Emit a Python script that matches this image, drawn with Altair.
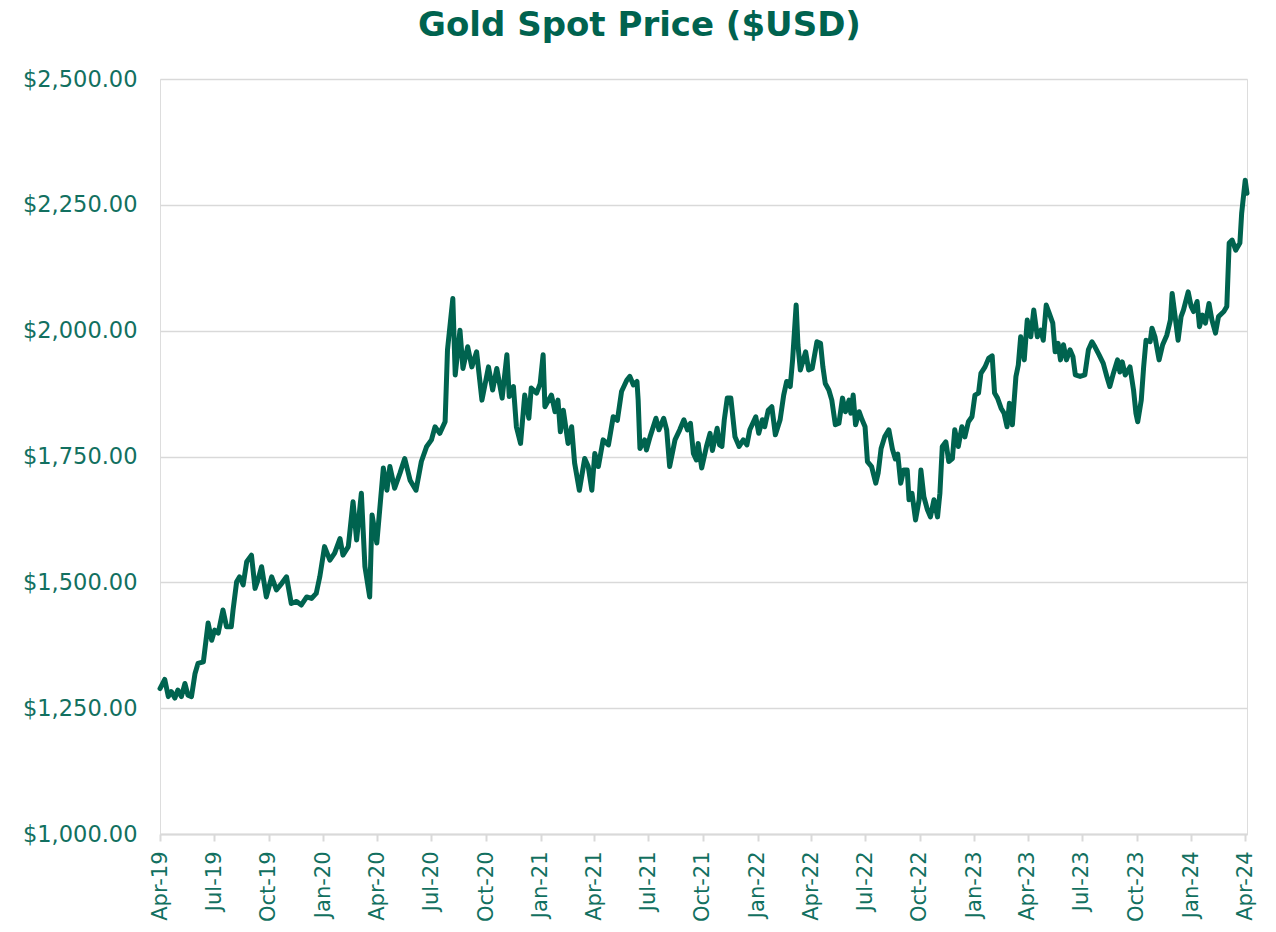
import altair as alt
import pandas as pd

# ---- data (approximate weekly readings) ----
dates_2019 = ["2019-04-01","2019-04-09","2019-04-15","2019-04-20","2019-04-26","2019-05-01","2019-05-07","2019-05-13","2019-05-18","2019-05-24","2019-05-30","2019-06-04","2019-06-13","2019-06-21","2019-06-27","2019-07-02","2019-07-08","2019-07-16","2019-07-22","2019-07-30","2019-08-02","2019-08-08","2019-08-13","2019-08-19","2019-08-25","2019-09-02","2019-09-08","2019-09-13","2019-09-19","2019-09-27","2019-10-06","2019-10-14","2019-10-23","2019-10-31","2019-11-08","2019-11-17","2019-11-25","2019-12-04","2019-12-12","2019-12-20","2019-12-26"]
prices_2019 = [1289,1307,1273,1283,1270,1286,1273,1299,1276,1273,1319,1339,1342,1419,1385,1405,1399,1445,1412,1412,1445,1501,1511,1495,1541,1554,1488,1505,1531,1471,1511,1485,1498,1511,1458,1462,1455,1471,1468,1478,1511]

dates_2020 = ["2020-01-03","2020-01-12","2020-01-20","2020-01-29","2020-02-03","2020-02-12","2020-02-20","2020-02-26","2020-03-05","2020-03-11","2020-03-19","2020-03-23","2020-03-31","2020-04-11","2020-04-17","2020-04-22","2020-04-30","2020-05-09","2020-05-17","2020-05-26","2020-06-05","2020-06-14","2020-06-23","2020-07-01","2020-07-07","2020-07-15","2020-07-24","2020-07-28","2020-08-06","2020-08-10","2020-08-18","2020-08-23","2020-08-31","2020-09-07","2020-09-15","2020-09-24","2020-10-05","2020-10-12","2020-10-19","2020-10-28","2020-11-05","2020-11-09","2020-11-16","2020-11-21","2020-11-28","2020-12-05","2020-12-12","2020-12-16","2020-12-25","2020-12-31"]
prices_2020 = [1571,1544,1558,1587,1554,1571,1660,1584,1677,1531,1471,1634,1578,1727,1683,1730,1687,1717,1746,1703,1683,1740,1770,1783,1809,1796,1819,1962,2064,1912,2001,1925,1968,1928,1958,1862,1928,1882,1925,1866,1952,1869,1889,1809,1776,1872,1826,1886,1876,1895]

dates_2021 = ["2021-01-05","2021-01-08","2021-01-19","2021-01-25","2021-01-30","2021-02-03","2021-02-08","2021-02-16","2021-02-22","2021-02-27","2021-03-07","2021-03-16","2021-03-22","2021-03-28","2021-04-02","2021-04-08","2021-04-16","2021-04-25","2021-05-03","2021-05-10","2021-05-17","2021-05-26","2021-05-31","2021-06-06","2021-06-12","2021-06-14","2021-06-17","2021-06-25","2021-06-28","2021-07-04","2021-07-14","2021-07-19","2021-07-27","2021-08-01","2021-08-06","2021-08-15","2021-08-23","2021-08-30","2021-09-05","2021-09-10","2021-09-15","2021-09-20","2021-09-23","2021-09-29","2021-10-07","2021-10-13","2021-10-17","2021-10-25","2021-10-29","2021-11-02","2021-11-06","2021-11-11","2021-11-17","2021-11-24","2021-12-01","2021-12-08","2021-12-14","2021-12-19","2021-12-29"]
prices_2021 = [1952,1849,1872,1839,1862,1799,1842,1776,1809,1737,1683,1746,1730,1683,1756,1730,1783,1773,1829,1822,1879,1902,1909,1892,1899,1862,1766,1783,1763,1789,1826,1803,1826,1803,1730,1783,1803,1823,1803,1816,1756,1743,1776,1727,1770,1796,1762,1806,1773,1770,1823,1866,1866,1789,1770,1783,1773,1803,1829]

dates_2022 = ["2022-01-03","2022-01-09","2022-01-13","2022-01-19","2022-01-25","2022-01-31","2022-02-08","2022-02-14","2022-02-19","2022-02-25","2022-03-01","2022-03-07","2022-03-10","2022-03-14","2022-03-23","2022-03-28","2022-04-03","2022-04-11","2022-04-17","2022-04-21","2022-04-25","2022-05-01","2022-05-06","2022-05-12","2022-05-18","2022-05-24","2022-05-29","2022-06-04","2022-06-07","2022-06-11","2022-06-15","2022-06-21","2022-06-26","2022-07-01","2022-07-05","2022-07-12","2022-07-19","2022-07-23","2022-07-28","2022-08-03","2022-08-10","2022-08-16","2022-08-21","2022-08-25","2022-08-30","2022-09-04","2022-09-10","2022-09-13","2022-09-18","2022-09-24","2022-09-30","2022-10-03","2022-10-08","2022-10-14","2022-10-19","2022-10-25","2022-10-31","2022-11-04","2022-11-08","2022-11-14","2022-11-19","2022-11-25","2022-11-29","2022-12-05","2022-12-11","2022-12-16","2022-12-22","2022-12-28"]
prices_2022 = [1796,1823,1809,1842,1849,1793,1823,1872,1899,1889,1942,2051,1972,1922,1958,1922,1925,1978,1975,1928,1895,1882,1862,1813,1816,1866,1839,1862,1836,1872,1813,1839,1823,1809,1740,1730,1697,1717,1766,1789,1803,1765,1745,1755,1697,1723,1723,1664,1677,1624,1664,1723,1670,1644,1630,1664,1630,1677,1770,1779,1740,1746,1803,1770,1809,1789,1819,1829]

dates_2023 = ["2023-01-02","2023-01-08","2023-01-12","2023-01-19","2023-01-25","2023-01-31","2023-02-04","2023-02-09","2023-02-15","2023-02-20","2023-02-25","2023-03-01","2023-03-06","2023-03-12","2023-03-16","2023-03-20","2023-03-26","2023-03-31","2023-04-06","2023-04-11","2023-04-17","2023-04-23","2023-04-27","2023-05-02","2023-05-07","2023-05-13","2023-05-17","2023-05-22","2023-05-26","2023-05-31","2023-06-05","2023-06-11","2023-06-16","2023-06-20","2023-06-28","2023-07-06","2023-07-12","2023-07-18","2023-07-23","2023-07-30","2023-08-06","2023-08-12","2023-08-17","2023-08-23","2023-08-30","2023-09-03","2023-09-07","2023-09-12","2023-09-20","2023-09-26","2023-09-30","2023-10-03","2023-10-09","2023-10-13","2023-10-17","2023-10-24","2023-10-27","2023-11-01","2023-11-08","2023-11-14","2023-11-21","2023-11-27","2023-11-30","2023-12-05","2023-12-10","2023-12-15","2023-12-19","2023-12-27"]
prices_2023 = [1872,1876,1915,1928,1945,1950,1876,1866,1846,1836,1809,1856,1813,1909,1932,1988,1942,2021,1988,2041,1988,2001,1981,2051,2035,2015,1958,1975,1942,1972,1942,1962,1948,1912,1909,1912,1962,1978,1968,1952,1935,1909,1889,1915,1942,1918,1938,1912,1928,1882,1836,1819,1862,1928,1981,1978,2005,1988,1942,1972,1991,2021,2074,2028,1981,2028,2041,2077]

dates_2024 = ["2024-01-01","2024-01-05","2024-01-11","2024-01-15","2024-01-20","2024-01-25","2024-01-31","2024-02-05","2024-02-11","2024-02-16","2024-02-25","2024-03-01","2024-03-05","2024-03-10","2024-03-16","2024-03-23","2024-03-26","2024-04-01","2024-04-04"]
prices_2024 = [2048,2038,2058,2008,2031,2015,2054,2021,1995,2028,2038,2048,2174,2180,2160,2174,2233,2299,2273]

tick_months = ["2019-04","2019-07","2019-10","2020-01","2020-04","2020-07","2020-10","2021-01","2021-04","2021-07","2021-10","2022-01","2022-04","2022-07","2022-10","2023-01","2023-04","2023-07","2023-10","2024-01","2024-04"]
y_ticks = [1000, 1250, 1500, 1750, 2000, 2250, 2500]

title_text = "Gold Spot Price ($USD)"

# ---- build table ----
all_dates = dates_2019 + dates_2020 + dates_2021 + dates_2022 + dates_2023 + dates_2024
all_prices = prices_2019 + prices_2020 + prices_2021 + prices_2022 + prices_2023 + prices_2024
df = pd.DataFrame({"date": pd.to_datetime(all_dates), "price": all_prices})

tick_vals = [alt.DateTime(year=int(m[:4]), month=int(m[5:7]), date=1) for m in tick_months]

GREEN = "#00634F"
LABEL = "#127060"
GRID = "#d9d9d9"
FONT = "DejaVu Sans"

chart = alt.Chart(df).mark_line(
    color=GREEN, strokeWidth=5, strokeJoin="round", strokeCap="round"
).encode(
    x=alt.X(
        "date:T",
        scale=alt.Scale(
            domain=[alt.DateTime(year=2019, month=4, date=1), alt.DateTime(year=2024, month=4, date=4)],
            nice=False,
        ),
        axis=alt.Axis(
            values=tick_vals, format="%b-%y", labelAngle=270, title=None,
            labelFont=FONT, labelFontSize=21, labelColor=LABEL, labelPadding=10,
            labelOverlap=False, labelFlush=False,
            grid=False, domainColor=GRID, domainWidth=2,
            tickColor=GRID, tickWidth=2, tickSize=7,
        ),
    ),
    y=alt.Y(
        "price:Q",
        scale=alt.Scale(domain=[1000, 2500], nice=False, zero=False),
        axis=alt.Axis(
            values=y_ticks, format="$,.2f", title=None,
            labelFont=FONT, labelFontSize=22.5, labelColor=LABEL, labelPadding=23,
            labelFlush=False, domain=False, ticks=False,
            grid=True, gridColor=GRID, gridWidth=1.5,
        ),
    ),
).properties(
    width=1087,
    height=755,
    title=alt.TitleParams(
        title_text, font=FONT, fontSize=34, fontWeight="bold", color=GREEN,
        anchor="middle", offset=25, dx=-64,
    ),
    autosize=alt.AutoSizeParams(type="none"),
    padding={"left": 160, "top": 79, "right": 29, "bottom": 98},
).configure_view(strokeWidth=0).configure(background="white")

chart.save("out.html", embed_options={"renderer": "svg", "actions": False})
